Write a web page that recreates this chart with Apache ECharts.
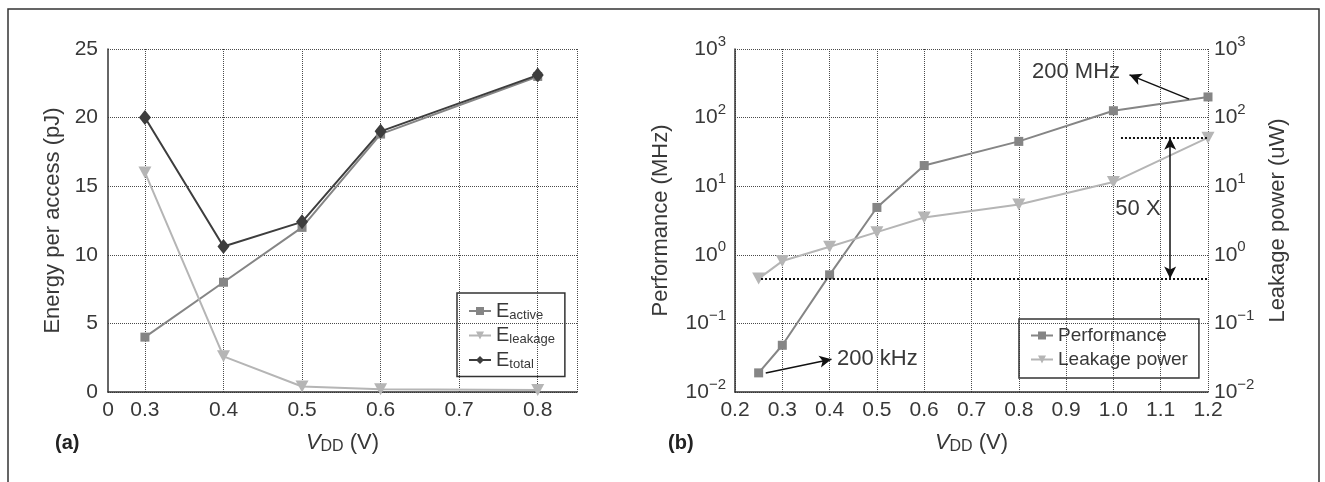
<!DOCTYPE html>
<html>
<head>
<meta charset="utf-8">
<script src="https://cdn.jsdelivr.net/npm/echarts@6/dist/echarts.min.js"></script>
<style>
html, body { margin: 0; padding: 0; background: #fff; }
#chart { width: 1325px; height: 482px; }
</style>
</head>
<body>
<div id="chart"></div>
<script>
// (a) energy per access vs VDD
const vddA = [0.3, 0.4, 0.5, 0.6, 0.8];
const eActive = [4.0, 8.0, 12.0, 18.8, 23.0];
const eLeakage = [16.0, 2.6, 0.4, 0.2, 0.15];
const eTotal = [20.0, 10.6, 12.4, 19.0, 23.1];
const ticksA = [0, 0.3, 0.4, 0.5, 0.6, 0.7, 0.8];

// (b) performance and leakage power vs VDD
const vddB = [0.25, 0.3, 0.4, 0.5, 0.6, 0.8, 1.0, 1.2];
const perf = [0.019, 0.048, 0.51, 4.9, 20, 45, 126, 200];
const leak = [0.45, 0.81, 1.31, 2.14, 3.5, 5.4, 11.5, 51];

// annotations of (b), in data coordinates
const noteMHz = { text: '200 MHz', at: [0.921, 460], from: [1.16, 186], to: [1.034, 420] };
const noteKHz = { text: '200 kHz', at: [0.501, 0.030], from: [0.265, 0.0189], to: [0.404, 0.030] };
const noteRatio = { text: '50 X', at: [1.052, 4.65], x: 1.12, lineFrom: [0.255, 1.016] };

// the (a) x axis is squeezed between 0 and 0.3
const posA = v => v === 0 ? 0 : (v - 0.3) * 10 + 0.47;
const maxA = 5.97;
const labelA = value => {
  const i = ticksA.findIndex(t => Math.abs(posA(t) - value) < 1e-6);
  return i < 0 ? '' : String(ticksA[i]);
};
const sup = v => {
  const p = Math.round(Math.log10(v));
  return '10{sup|' + (p < 0 ? '\u2212' + (-p) : p) + '}';
};

const FONT = 'Liberation Sans';
const TXT = '#383838';
const GRID = '#4a4a4a';
const downTri = 'path://M0,0 L10,0 L5,9 Z';

const tickFont = { fontFamily: FONT, fontSize: 21, color: TXT };
const supRich = { sup: { fontFamily: FONT, fontSize: 15, color: TXT, padding: [0, 0, 15, 0] } };
const nameStyle = {
  fontFamily: FONT, fontSize: 22, color: TXT,
  rich: {
    i: { fontFamily: FONT, fontSize: 22, fontStyle: 'italic', color: TXT },
    s: { fontFamily: FONT, fontSize: 16, color: TXT, padding: [9, 0, 0, 0] },
    t: { fontFamily: FONT, fontSize: 22, color: TXT }
  }
};
const dotted = { show: true, lineStyle: { type: 'dotted', color: GRID, width: 1 } };
const solidAxis = { show: true, lineStyle: { color: '#333', width: 1.5 } };

const chart = echarts.init(document.getElementById('chart'));

const option = {
  animation: false,
  backgroundColor: '#fff',
  textStyle: { fontFamily: FONT },
  graphic: [
    { type: 'rect', shape: { x: 8, y: 9, width: 1311, height: 520 }, style: { fill: 'none', stroke: '#333', lineWidth: 1.5 } },
    { type: 'text', left: 55, top: 433, style: { text: '(a)', font: 'bold 20px "Liberation Sans"', fill: '#222' } },
    { type: 'text', left: 668, top: 433, style: { text: '(b)', font: 'bold 20px "Liberation Sans"', fill: '#222' } }
  ],
  grid: [
    { left: 108, top: 49, width: 469, height: 343 },
    { left: 735, top: 49, width: 473, height: 343 }
  ],
  legend: [
    {
      data: ['E_active', 'E_leakage', 'E_total'],
      orient: 'vertical', left: 457, top: 293,
      padding: [8, 10, 6, 11], itemGap: 4,
      itemWidth: 22, itemHeight: 10,
      borderColor: '#333', borderWidth: 1.5,
      formatter: name => '{t|E}{s|' + name.slice(2) + '}',
      textStyle: {
        rich: {
          t: { fontFamily: FONT, fontSize: 20, color: TXT },
          s: { fontFamily: FONT, fontSize: 13, color: TXT, padding: [8, 0, 0, 0] }
        }
      }
    },
    {
      data: ['Performance', 'Leakage power'],
      orient: 'vertical', left: 1019, top: 319,
      padding: [7, 11, 9, 11], itemGap: 5,
      itemWidth: 22, itemHeight: 10,
      borderColor: '#333', borderWidth: 1.5,
      textStyle: { fontFamily: FONT, fontSize: 19, color: TXT }
    }
  ],
  xAxis: [
    {
      gridIndex: 0, type: 'value', min: 0, max: maxA,
      name: '{i|V}{s|DD}{t| (V)}', nameLocation: 'middle', nameGap: 38, nameTextStyle: nameStyle,
      axisLine: solidAxis,
      axisTick: { show: false, customValues: ticksA.slice(1).map(posA).concat([maxA]) },
      axisLabel: Object.assign({ margin: 8, customValues: ticksA.map(posA), formatter: labelA }, tickFont),
      splitLine: dotted
    },
    {
      gridIndex: 1, type: 'value', min: 0.2, max: 1.2, interval: 0.1,
      name: '{i|V}{s|DD}{t| (V)}', nameLocation: 'middle', nameGap: 38, nameTextStyle: nameStyle,
      axisLine: solidAxis,
      axisTick: { show: false },
      axisLabel: Object.assign({ margin: 8, formatter: v => v.toFixed(1) }, tickFont),
      splitLine: dotted
    }
  ],
  yAxis: [
    {
      gridIndex: 0, type: 'value', min: 0, max: 25, interval: 5,
      name: 'Energy per access (pJ)', nameLocation: 'middle', nameGap: 44, nameTextStyle: nameStyle,
      axisLine: solidAxis,
      axisTick: { show: false },
      axisLabel: Object.assign({ margin: 10 }, tickFont),
      splitLine: dotted
    },
    {
      gridIndex: 1, type: 'log', logBase: 10, min: 0.01, max: 1000,
      name: 'Performance (MHz)', nameLocation: 'middle', nameGap: 63, nameTextStyle: nameStyle,
      axisLine: solidAxis,
      axisTick: { show: false },
      axisLabel: Object.assign({ margin: 9, formatter: sup, rich: supRich }, tickFont),
      splitLine: dotted
    },
    {
      gridIndex: 1, type: 'log', logBase: 10, min: 0.01, max: 1000, position: 'right',
      name: 'Leakage power (uW)', nameLocation: 'middle', nameRotate: 90, nameGap: 59, nameTextStyle: nameStyle,
      axisLine: { show: false },
      axisTick: { show: false },
      axisLabel: Object.assign({ margin: 6, formatter: sup, rich: supRich }, tickFont),
      splitLine: { show: false }
    }
  ],
  series: [
    {
      name: 'E_active', type: 'line', xAxisIndex: 0, yAxisIndex: 0,
      data: vddA.map((v, i) => [posA(v), eActive[i]]),
      symbol: 'rect', symbolSize: 9,
      lineStyle: { width: 2, color: '#858585' }, itemStyle: { color: '#858585' }
    },
    {
      name: 'E_leakage', type: 'line', xAxisIndex: 0, yAxisIndex: 0,
      data: vddA.map((v, i) => [posA(v), eLeakage[i]]),
      symbol: downTri, symbolSize: [13, 12],
      lineStyle: { width: 2, color: '#b5b5b5' }, itemStyle: { color: '#b5b5b5' }
    },
    {
      name: 'E_total', type: 'line', xAxisIndex: 0, yAxisIndex: 0,
      data: vddA.map((v, i) => [posA(v), eTotal[i]]),
      symbol: 'diamond', symbolSize: [12, 15],
      lineStyle: { width: 2, color: '#3d3d3d' }, itemStyle: { color: '#3d3d3d' }
    },
    {
      name: 'Performance', type: 'line', xAxisIndex: 1, yAxisIndex: 1,
      data: vddB.map((v, i) => [v, perf[i]]),
      symbol: 'rect', symbolSize: 9,
      lineStyle: { width: 2, color: '#858585' }, itemStyle: { color: '#858585' },
      markLine: {
        silent: true, label: { show: false },
        lineStyle: { type: 'solid', color: '#111', width: 1.5 },
        data: [
          [{ coord: noteMHz.from, symbol: 'none' }, { coord: noteMHz.to, symbol: 'arrow', symbolSize: [9, 12] }],
          [{ coord: noteKHz.from, symbol: 'none' }, { coord: noteKHz.to, symbol: 'arrow', symbolSize: [9, 12] }]
        ]
      },
      markPoint: {
        silent: true, symbol: 'rect', symbolSize: 1, itemStyle: { color: 'rgba(0,0,0,0)' },
        label: { show: true, position: 'inside', fontFamily: FONT, fontSize: 22, color: TXT },
        data: [
          { coord: noteMHz.at, value: noteMHz.text },
          { coord: noteKHz.at, value: noteKHz.text }
        ]
      }
    },
    {
      name: 'Leakage power', type: 'line', xAxisIndex: 1, yAxisIndex: 2,
      data: vddB.map((v, i) => [v, leak[i]]),
      symbol: downTri, symbolSize: [13, 12],
      lineStyle: { width: 2, color: '#b5b5b5' }, itemStyle: { color: '#b5b5b5' },
      markLine: {
        silent: true, label: { show: false },
        lineStyle: { type: 'dotted', color: '#111', width: 2 },
        data: [
          [{ coord: [noteRatio.lineFrom[0], leak[0]], symbol: 'none' }, { coord: [1.2, leak[0]], symbol: 'none' }],
          [{ coord: [noteRatio.lineFrom[1], leak[leak.length - 1]], symbol: 'none' }, { coord: [1.2, leak[leak.length - 1]], symbol: 'none' }],
          [
            { coord: [noteRatio.x, leak[leak.length - 1]], symbol: 'arrow', symbolSize: [9, 12], lineStyle: { type: 'solid', width: 1.5 } },
            { coord: [noteRatio.x, leak[0]], symbol: 'arrow', symbolSize: [9, 12] }
          ]
        ]
      },
      markPoint: {
        silent: true, symbol: 'rect', symbolSize: 1, itemStyle: { color: 'rgba(0,0,0,0)' },
        label: { show: true, position: 'inside', fontFamily: FONT, fontSize: 22, color: TXT },
        data: [{ coord: noteRatio.at, value: noteRatio.text }]
      }
    }
  ]
};

chart.setOption(option);
</script>
</body>
</html>
